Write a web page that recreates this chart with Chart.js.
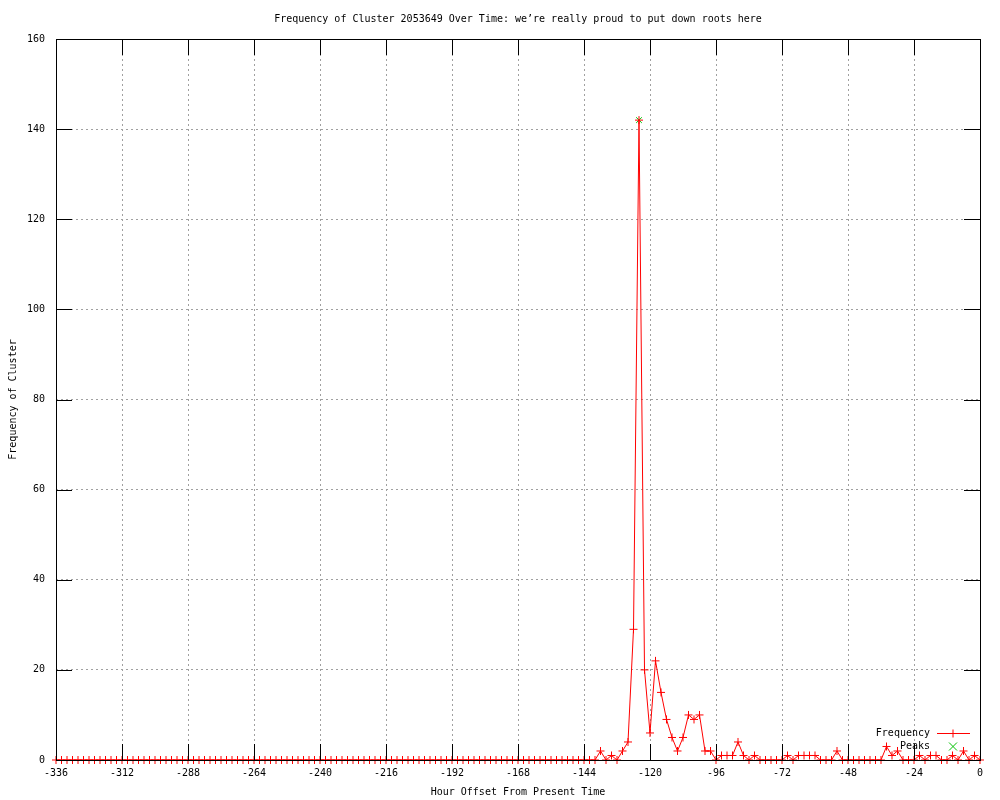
<!DOCTYPE html>
<html>
<head>
<meta charset="utf-8">
<title>Frequency of Cluster 2053649</title>
<script src="https://cdn.jsdelivr.net/npm/chart.js@4/dist/chart.umd.min.js"></script>
<style>
    body { margin: 0; background: #fff; }
    canvas { display: block; }
</style>
</head>
<body>
<canvas id="mainChart" width="1000" height="800"></canvas>
<script>
// hour offsets, one point every 2 hours
const hours = [
    -336, -334, -332, -330, -328, -326, -324, -322, -320, -318, -316, -314,
    -312, -310, -308, -306, -304, -302, -300, -298, -296, -294, -292, -290,
    -288, -286, -284, -282, -280, -278, -276, -274, -272, -270, -268, -266,
    -264, -262, -260, -258, -256, -254, -252, -250, -248, -246, -244, -242,
    -240, -238, -236, -234, -232, -230, -228, -226, -224, -222, -220, -218,
    -216, -214, -212, -210, -208, -206, -204, -202, -200, -198, -196, -194,
    -192, -190, -188, -186, -184, -182, -180, -178, -176, -174, -172, -170,
    -168, -166, -164, -162, -160, -158, -156, -154, -152, -150, -148, -146,
    -144, -142, -140, -138, -136, -134, -132, -130, -128, -126, -124, -122,
    -120, -118, -116, -114, -112, -110, -108, -106, -104, -102, -100, -98,
    -96, -94, -92, -90, -88, -86, -84, -82, -80, -78, -76, -74,
    -72, -70, -68, -66, -64, -62, -60, -58, -56, -54, -52, -50,
    -48, -46, -44, -42, -40, -38, -36, -34, -32, -30, -28, -26,
    -24, -22, -20, -18, -16, -14, -12, -10, -8, -6, -4, -2,
    0
];

const frequency = [
    0, 0, 0, 0, 0, 0, 0, 0, 0, 0, 0, 0,
    0, 0, 0, 0, 0, 0, 0, 0, 0, 0, 0, 0,
    0, 0, 0, 0, 0, 0, 0, 0, 0, 0, 0, 0,
    0, 0, 0, 0, 0, 0, 0, 0, 0, 0, 0, 0,
    0, 0, 0, 0, 0, 0, 0, 0, 0, 0, 0, 0,
    0, 0, 0, 0, 0, 0, 0, 0, 0, 0, 0, 0,
    0, 0, 0, 0, 0, 0, 0, 0, 0, 0, 0, 0,
    0, 0, 0, 0, 0, 0, 0, 0, 0, 0, 0, 0,
    0, 0, 0, 2, 0, 1, 0, 2, 4, 29, 142, 20,
    6, 22, 15, 9, 5, 2, 5, 10, 9, 10, 2, 2,
    0, 1, 1, 1, 4, 1, 0, 1, 0, 0, 0, 0,
    0, 1, 0, 1, 1, 1, 1, 0, 0, 0, 2, 0,
    0, 0, 0, 0, 0, 0, 0, 3, 1, 2, 0, 0,
    0, 1, 0, 1, 1, 0, 0, 1, 0, 2, 0, 1,
    0
];

const peakHours = [-124];
const peakValues = [142];

const xTicks = { min: -336, max: 0, step: 24 };
const yTicks = { min: 0, max: 160, step: 20 };

const titleText = 'Frequency of Cluster 2053649 Over Time: we\u2019re really proud to put down roots here';

Chart.defaults.font.family = "'DejaVu Sans Mono', 'Liberation Mono', monospace";
Chart.defaults.font.size = 10;
Chart.defaults.color = '#000';

// gnuplot look: frame, inward mirrored tics and the key inside bottom right
const gnuplotFrame = {
    id: 'gnuplotFrame',
    afterDatasetsDraw(chart) {
        const { ctx, chartArea: a, scales: { x, y } } = chart;
        const tic = 16;
        ctx.save();
        ctx.strokeStyle = '#000';
        ctx.lineWidth = 1;
        ctx.beginPath();
        x.ticks.forEach(t => {
            const px = Math.round(x.getPixelForValue(t.value)) + 0.5;
            ctx.moveTo(px, a.bottom);
            ctx.lineTo(px, a.bottom - tic);
            ctx.moveTo(px, a.top);
            ctx.lineTo(px, a.top + tic);
        });
        y.ticks.forEach(t => {
            const py = Math.round(y.getPixelForValue(t.value)) + 0.5;
            ctx.moveTo(a.left, py);
            ctx.lineTo(a.left + tic, py);
            ctx.moveTo(a.right, py);
            ctx.lineTo(a.right - tic, py);
        });
        ctx.stroke();
        ctx.strokeRect(a.left + 0.5, a.top + 0.5, a.right - a.left, a.bottom - a.top);

        // key
        const keyRight = a.right - 50;
        ctx.font = Chart.helpers.toFont(Chart.defaults.font).string;
        ctx.textAlign = 'right';
        ctx.textBaseline = 'middle';
        chart.data.datasets.forEach((ds, i) => {
            const ky = a.bottom - 27 + i * 13 + 0.5;
            ctx.fillStyle = '#000';
            ctx.fillText(ds.label, keyRight, ky);
            const cx = keyRight + 23;
            ctx.strokeStyle = ds.borderColor;
            ctx.beginPath();
            if (ds.showLine !== false) {
                ctx.moveTo(keyRight + 7, ky);
                ctx.lineTo(keyRight + 40, ky);
            }
            if (ds.pointStyle === 'cross') {
                ctx.moveTo(cx - 4, ky);
                ctx.lineTo(cx + 4, ky);
                ctx.moveTo(cx, ky - 4);
                ctx.lineTo(cx, ky + 4);
            } else {
                ctx.moveTo(cx - 4, ky - 4);
                ctx.lineTo(cx + 4, ky + 4);
                ctx.moveTo(cx - 4, ky + 4);
                ctx.lineTo(cx + 4, ky - 4);
            }
            ctx.stroke();
        });
        ctx.restore();
    }
};

new Chart(document.getElementById('mainChart'), {
    type: 'line',
    data: {
        datasets: [
            {
                label: 'Frequency',
                data: hours.map((h, i) => ({ x: h, y: frequency[i] })),
                borderColor: '#ff0000',
                backgroundColor: '#ff0000',
                borderWidth: 1,
                pointStyle: 'cross',
                pointRadius: 4,
                pointBorderWidth: 1,
                tension: 0,
                clip: false
            },
            {
                label: 'Peaks',
                data: peakHours.map((h, i) => ({ x: h, y: peakValues[i] })),
                borderColor: '#00c000',
                backgroundColor: '#00c000',
                showLine: false,
                pointStyle: 'crossRot',
                pointRadius: 4,
                pointBorderWidth: 1,
                clip: false
            }
        ]
    },
    options: {
        responsive: false,
        animation: false,
        layout: { padding: { left: 0, right: 20, top: 0, bottom: 0 } },
        plugins: {
            legend: { display: false },
            tooltip: { enabled: false },
            title: {
                display: true,
                text: titleText,
                fullSize: false,
                font: { weight: 'normal', size: 10 },
                padding: { top: 13, bottom: 14 }
            }
        },
        scales: {
            x: {
                type: 'linear',
                min: xTicks.min,
                max: xTicks.max,
                afterFit: s => { s.height = 40; },
                ticks: { stepSize: xTicks.step, padding: 7, maxRotation: 0, autoSkip: false },
                grid: { color: '#a0a0a0', drawTicks: false },
                border: { display: false, dash: [2, 3] },
                title: {
                    display: true,
                    text: 'Hour Offset From Present Time',
                    padding: { top: 0, bottom: 2 }
                }
            },
            y: {
                min: yTicks.min,
                max: yTicks.max,
                afterFit: s => { s.width = 56; },
                ticks: { stepSize: yTicks.step, padding: 11 },
                grid: { color: '#a0a0a0', drawTicks: false },
                border: { display: false, dash: [2, 3] },
                title: {
                    display: true,
                    text: 'Frequency of Cluster',
                    padding: { top: 7, bottom: 0 }
                }
            }
        }
    },
    plugins: [gnuplotFrame]
});
</script>
</body>
</html>
